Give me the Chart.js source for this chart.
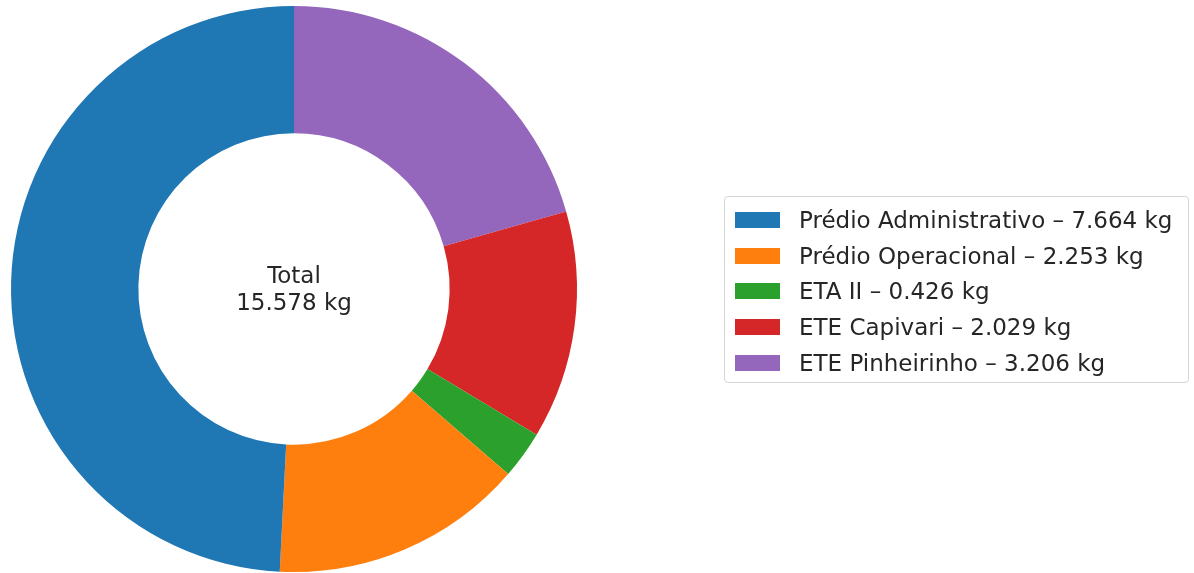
<!DOCTYPE html>
<html>
<head>
<meta charset="utf-8">
<script src="https://cdn.jsdelivr.net/npm/chart.js@4"></script>
<style>
    body { margin: 0; background: #fff; }
    #wrap { position: relative; width: 1194px; height: 573px; }
    #legend {
        position: absolute; left: 724px; top: 196px; width: 465px; height: 187px;
        box-sizing: border-box; border: 1px solid #d6d6d6; border-radius: 4px;
        padding: 5px 0 0 10px; font-family: "DejaVu Sans", sans-serif; font-size: 23px; color: #262626;
    }
    .item { height: 35.7px; display: flex; align-items: center; white-space: nowrap; }
    .swatch { width: 45px; height: 16px; margin-right: 19px; flex: none; }
</style>
</head>
<body>
<div id="wrap">
    <canvas id="chart" width="1194" height="573"></canvas>
    <div id="legend"></div>
</div>
<script>
const categories = ['Prédio Administrativo', 'Prédio Operacional', 'ETA II', 'ETE Capivari', 'ETE Pinheirinho'];
const values = [7.664, 2.253, 0.426, 2.029, 3.206];
const colors = ['#1f77b4', '#ff7f0e', '#2ca02c', '#d62728', '#9467bd'];
const totalLabel = ['Total', '15.578 kg'];

function fmt(v) {
    return v.toFixed(3) + ' kg';
}

// matplotlib draws counter-clockwise, so feed chart.js the reversed order
const revLabels = categories.slice().reverse();
const revValues = values.slice().reverse();
const revColors = colors.slice().reverse();

const centerText = {
    id: 'centerText',
    afterDraw(chart) {
        const ctx = chart.ctx;
        const meta = chart.getDatasetMeta(0).data[0];
        ctx.save();
        ctx.font = '23px "DejaVu Sans", sans-serif';
        ctx.fillStyle = '#262626';
        ctx.textAlign = 'center';
        ctx.textBaseline = 'middle';
        ctx.fillText(totalLabel[0], meta.x, meta.y - 12);
        ctx.fillText(totalLabel[1], meta.x, meta.y + 15);
        ctx.restore();
    }
};

new Chart(document.getElementById('chart'), {
    type: 'doughnut',
    data: {
        labels: revLabels,
        datasets: [{
            data: revValues,
            backgroundColor: revColors,
            borderWidth: 0
        }]
    },
    options: {
        responsive: false,
        animation: false,
        cutout: '55%',
        layout: { padding: { left: 11, right: 617, top: 6, bottom: 1 } },
        plugins: {
            legend: { display: false },
            tooltip: { enabled: false }
        }
    },
    plugins: [centerText]
});

const legend = document.getElementById('legend');
categories.forEach((c, i) => {
    const row = document.createElement('div');
    row.className = 'item';
    row.innerHTML = `<span class="swatch" style="background:${colors[i]}"></span><span>${c} – ${fmt(values[i])}</span>`;
    legend.appendChild(row);
});
</script>
</body>
</html>
